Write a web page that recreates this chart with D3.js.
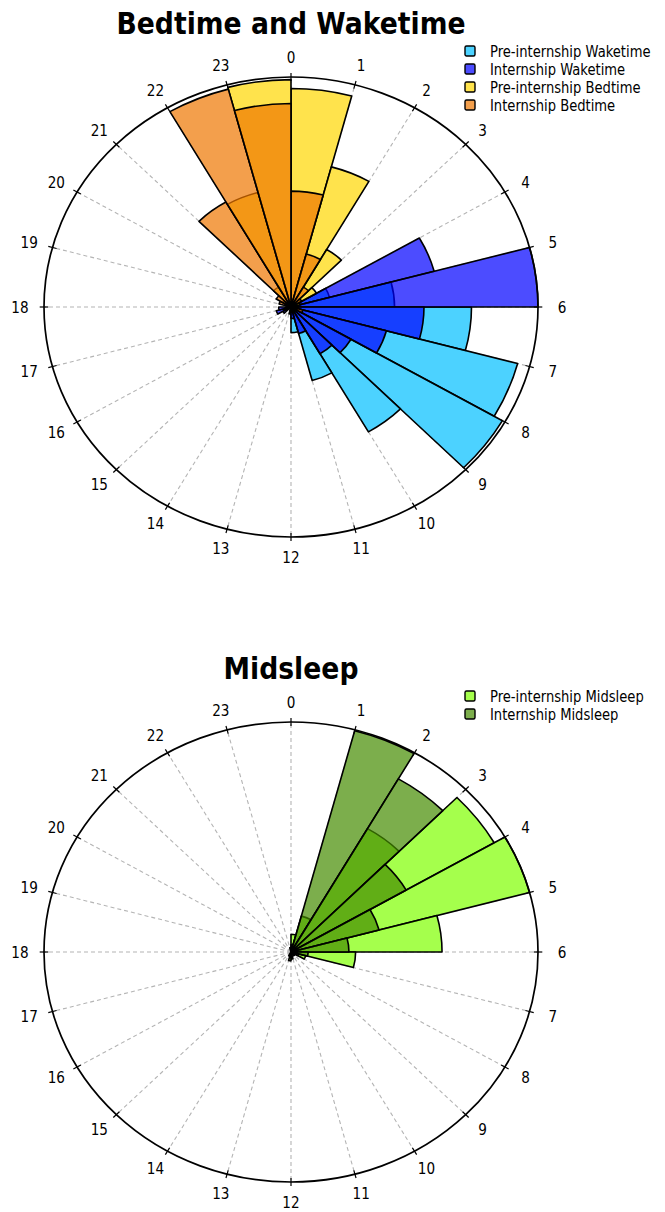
<!DOCTYPE html>
<html>
<head>
<meta charset="utf-8">
<script src="https://cdn.jsdelivr.net/npm/d3@7"></script>
<style>
    body { margin: 0; background: #ffffff; }
    svg { display: block; }
    text { font-family: "DejaVu Sans", Verdana, sans-serif; fill: #000000; }
</style>
</head>
<body>
<div id="chart"></div>
<script>
// hour bins 0..23, each bar covers [h, h+1)
const hours = d3.range(24);
const hourLabels = hours.map(String);

// share of residents (%) per hour bin
const preWake = [0, 0, 0, 0.3, 4.2, 10.9, 19.0, 24.7, 25.7, 16.3, 8.6, 2.9, 0.8, 0, 0, 0, 0, 0, 0, 0, 0, 0, 0, 0];
const internWake = [0, 0, 0, 0.8, 15.6, 26.0, 14.0, 10.4, 7.3, 6.1, 3.1, 1.3, 0.5, 0, 0, 1.0, 1.6, 1.3, 0, 0, 0, 0, 0, 0];
const preBed = [24.7, 16.4, 7.5, 3.1, 1.0, 0, 0, 0, 0, 0, 0, 0, 0, 0, 0, 0, 0, 0, 0, 0.5, 1.0, 2.6, 13.4, 25.7];
const internBed = [13.1, 6.2, 2.6, 1.3, 0, 0, 0.8, 1.3, 0, 0, 0, 0, 0, 0, 0, 0, 0, 0, 0.5, 1.3, 1.8, 13.7, 25.5, 23.0];
const preMid = [2.0, 4.2, 16.1, 24.7, 26.0, 15.9, 6.8, 1.6, 0.5, 0.5, 0, 0, 0, 0, 0, 0, 0, 0, 0, 0, 0, 0, 0, 0];
const internMid = [0.8, 25.9, 22.6, 14.0, 9.6, 6.1, 1.8, 0.8, 0, 0, 0, 0.8, 1.0, 0.5, 0, 0, 0, 0, 0, 0, 0, 0, 0, 0.5];

const sleepSeries = [
    { name: "Pre-internship Waketime", color: "#00bfff", values: preWake },
    { name: "Internship Waketime", color: "#0000ff", values: internWake },
    { name: "Pre-internship Bedtime", color: "#ffd700", values: preBed },
    { name: "Internship Bedtime", color: "#ee7600", values: internBed }
];
const midSeries = [
    { name: "Pre-internship Midsleep", color: "#7fff00", values: preMid },
    { name: "Internship Midsleep", color: "#458b00", values: internMid }
];

const sizes = {
    width: 665,
    height: 1212,
    rx: 247,
    ry: 230,
    labelGapX: 24,
    labelGapY: 20,
    textSqueeze: 0.85
};

const svg = d3.select("#chart")
    .append("svg")
    .attr("width", sizes.width)
    .attr("height", sizes.height);

function drawRose(title, series, cx, cy) {
    const stretch = sizes.rx / sizes.ry;
    const maxVal = d3.max(series, s => d3.max(s.values));

    const rScale = d3.scaleLinear()
        .domain([0, maxVal])
        .range([0, sizes.ry]);

    const aScale = d3.scaleLinear()
        .domain([0, 24])
        .range([0, 2 * Math.PI]);

    const g = svg.append("g")
        .attr("transform", "translate(" + cx + "," + cy + ") scale(" + stretch + ",1)");

    // dashed spokes
    g.selectAll(".spoke")
        .data(hours)
        .enter().append("line")
        .attr("x1", 0).attr("y1", 0)
        .attr("x2", h => sizes.ry * Math.sin(aScale(h)))
        .attr("y2", h => -sizes.ry * Math.cos(aScale(h)))
        .attr("stroke", "#b4b4b4")
        .attr("stroke-width", 1.1)
        .attr("stroke-dasharray", "4,3")
        .attr("vector-effect", "non-scaling-stroke");

    const arc = d3.arc()
        .innerRadius(0)
        .outerRadius(d => rScale(d.value))
        .startAngle(d => aScale(d.hour))
        .endAngle(d => aScale(d.hour + 1));

    series.forEach(s => {
        const bars = hours.map(h => ({ hour: h, value: s.values[h] }))
            .filter(d => d.value > 0);
        g.append("g")
            .selectAll("path")
            .data(bars)
            .enter().append("path")
            .attr("d", arc)
            .attr("fill", s.color)
            .attr("fill-opacity", 0.7)
            .attr("stroke", "#000000")
            .attr("stroke-width", 1.6)
            .attr("stroke-linejoin", "round")
            .attr("vector-effect", "non-scaling-stroke");
    });

    // outer ring and hour ticks
    g.append("circle")
        .attr("r", sizes.ry)
        .attr("fill", "none")
        .attr("stroke", "#000000")
        .attr("stroke-width", 1.7)
        .attr("vector-effect", "non-scaling-stroke");

    g.selectAll(".tick")
        .data(hours)
        .enter().append("line")
        .attr("x1", h => (sizes.ry - 4) * Math.sin(aScale(h)))
        .attr("y1", h => -(sizes.ry - 4) * Math.cos(aScale(h)))
        .attr("x2", h => (sizes.ry + 4) * Math.sin(aScale(h)))
        .attr("y2", h => -(sizes.ry + 4) * Math.cos(aScale(h)))
        .attr("stroke", "#000000")
        .attr("stroke-width", 1.2)
        .attr("vector-effect", "non-scaling-stroke");

    // hour labels (outside the stretched group so glyphs are not distorted)
    svg.append("g")
        .selectAll("text")
        .data(hours)
        .enter().append("text")
        .attr("transform", h => {
            const x = cx + (sizes.rx + sizes.labelGapX) * Math.sin(aScale(h));
            const y = cy - (sizes.ry + sizes.labelGapY) * Math.cos(aScale(h));
            return "translate(" + x + "," + y + ") scale(" + sizes.textSqueeze + ",1)";
        })
        .attr("text-anchor", "middle")
        .attr("dy", "0.36em")
        .style("font-size", "16px")
        .text(h => hourLabels[h]);

    svg.append("text")
        .attr("transform", "translate(" + cx + "," + (cy - 273) + ") scale(0.86,1)")
        .attr("text-anchor", "middle")
        .style("font-size", "31px")
        .style("font-weight", "bold")
        .text(title);

    const legend = svg.append("g")
        .attr("transform", "translate(465," + (cy - 256) + ")");

    const rows = legend.selectAll("g")
        .data(series)
        .enter().append("g")
        .attr("transform", (d, i) => "translate(0," + i * 18 + ")");

    rows.append("rect")
        .attr("x", 0).attr("y", -5)
        .attr("width", 10).attr("height", 10)
        .attr("rx", 1.5)
        .attr("fill", d => d.color)
        .attr("fill-opacity", 0.7)
        .attr("stroke", "#000000")
        .attr("stroke-width", 1.4);

    rows.append("text")
        .attr("transform", "translate(25,0) scale(0.82,1)")
        .attr("dy", "0.36em")
        .style("font-size", "16px")
        .text(d => d.name);
}

drawRose("Bedtime and Waketime", sleepSeries, 291, 307);
drawRose("Midsleep", midSeries, 291, 952);
</script>
</body>
</html>
